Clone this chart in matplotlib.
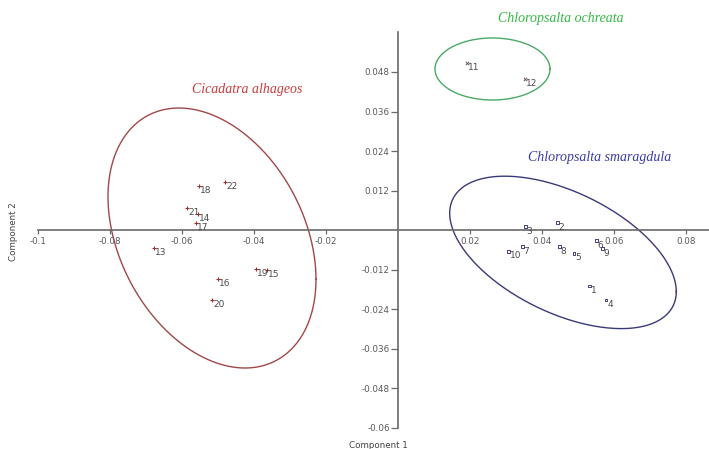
import numpy as np
import matplotlib
matplotlib.use("Agg")
import matplotlib.pyplot as plt

# ---- data ----
red_labels = ["18", "22", "21", "14", "17", "13", "19", "15", "16", "20"]
red_x = [-0.0553, -0.0480, -0.0585, -0.0555, -0.0561, -0.0677, -0.0394, -0.0363, -0.0499, -0.0516]
red_y = [0.01346, 0.0145, 0.00678, 0.00476, 0.0020, -0.00557, -0.01175, -0.01215, -0.01498, -0.02126]

blue_labels = ["3", "2", "10", "7", "8", "5", "6", "9", "1", "4"]
blue_x = [0.03537, 0.04436, 0.03074, 0.03463, 0.0448, 0.0489, 0.0552, 0.0569, 0.0533, 0.0578]
blue_y = [0.0010, 0.00222, -0.00648, -0.00506, -0.00506, -0.00709, -0.00324, -0.00567, -0.0170, -0.02126]

green_labels = ["11", "12"]
green_x = [0.01926, 0.03537]
green_y = [0.0506, 0.0460]

# ellipses: center x, center y, radius x, radius y, correlation
red_ell = [-0.05167, -0.00243, 0.02889, 0.03949, -0.318]
blue_ell = [0.04583, -0.00680, 0.03147, 0.02315, -0.514]
green_ell = [0.02625, 0.04891, 0.01597, 0.00942, 0.0]

group_names = ["Cicadatra alhageos", "Chloropsalta ochreata", "Chloropsalta smaragdula"]
group_name_pos = [(-0.0419, 0.0428), (0.0451, 0.0644), (0.0561, 0.0219)]

x_ticks = [-0.1, -0.08, -0.06, -0.04, -0.02, 0.02, 0.04, 0.06, 0.08]
x_tick_labels = ["-0.1", "-0.08", "-0.06", "-0.04", "-0.02", "0.02", "0.04", "0.06", "0.08"]
y_ticks = [-0.06, -0.048, -0.036, -0.024, -0.012, 0.012, 0.024, 0.036, 0.048]
y_tick_labels = ["-0.06", "-0.048", "-0.036", "-0.024", "-0.012", "0.012", "0.024", "0.036", "0.048"]

# ---- figure ----
fig = plt.figure(figsize=(7.09, 4.49), dpi=100)
ax = fig.add_axes([0, 0, 1, 1])
ax.set_xlim(-0.11056, 0.08639)
ax.set_ylim(-0.06652, 0.06987)
ax.patch.set_alpha(0)

axis_col = "#6a6a6a"
for s in ["top", "right"]:
    ax.spines[s].set_visible(False)
ax.spines["left"].set_position(("data", 0))
ax.spines["bottom"].set_position(("data", 0))
ax.spines["left"].set_bounds(-0.06, 0.06)
ax.spines["bottom"].set_bounds(-0.1, 0.08639)
for s in ["left", "bottom"]:
    ax.spines[s].set_color(axis_col)
    ax.spines[s].set_linewidth(1.2)

ax.set_xticks(x_ticks)
ax.set_xticklabels(x_tick_labels)
ax.set_yticks(y_ticks)
ax.set_yticklabels(y_tick_labels)
ax.tick_params(axis="both", direction="out", colors=axis_col, labelsize=6.3,
               labelcolor="#5a5a5a", width=0.9)
ax.tick_params(axis="x", length=3, pad=2)
ax.tick_params(axis="y", length=5, pad=1)


def draw_ellipse(params, color):
    cx, cy, rx, ry, rho = params
    t = np.linspace(0, 2 * np.pi, 400)
    ex = cx + rx * np.cos(t)
    ey = cy + ry * (rho * np.cos(t) + np.sqrt(1 - rho ** 2) * np.sin(t))
    ax.plot(ex, ey, color=color, lw=1.0, clip_on=False)


draw_ellipse(red_ell, "#a04848")
draw_ellipse(blue_ell, "#3a3a78")
draw_ellipse(green_ell, "#4aaa66")

ax.scatter(red_x, red_y, marker="+", s=10, color="#a03030", linewidths=0.8, zorder=3)
ax.scatter(blue_x, blue_y, marker="s", s=4, facecolors="none", edgecolors="#404080",
           linewidths=0.7, zorder=3)
ax.scatter(green_x, green_y, marker="x", s=6, color="#705070", linewidths=0.7, zorder=3)

lab_col = "#4a4a4a"
for xs, ys, ls in [(red_x, red_y, red_labels), (blue_x, blue_y, blue_labels),
                   (green_x, green_y, green_labels)]:
    for xv, yv, lv in zip(xs, ys, ls):
        ax.annotate(lv, (xv, yv), xytext=(1.0, -4.5), textcoords="offset pixels",
                    ha="left", va="center", fontsize=6.5, color=lab_col)

name_cols = ["#cc3a3a", "#33b844", "#3a3aa8"]
for name, (px, py), c in zip(group_names, group_name_pos, name_cols):
    ax.text(px, py, name, ha="center", va="center", fontsize=10, color=c,
            family="Liberation Serif", style="italic")

fig.text(378 / 709, 1 - 445 / 449, "Component 1", ha="center", va="center",
         fontsize=6.3, color="#444444")
fig.text(14 / 709, 1 - 232 / 449, "Component 2", ha="center", va="center",
         fontsize=6.3, color="#444444", rotation=90)

fig.savefig("out.png", dpi=100)
